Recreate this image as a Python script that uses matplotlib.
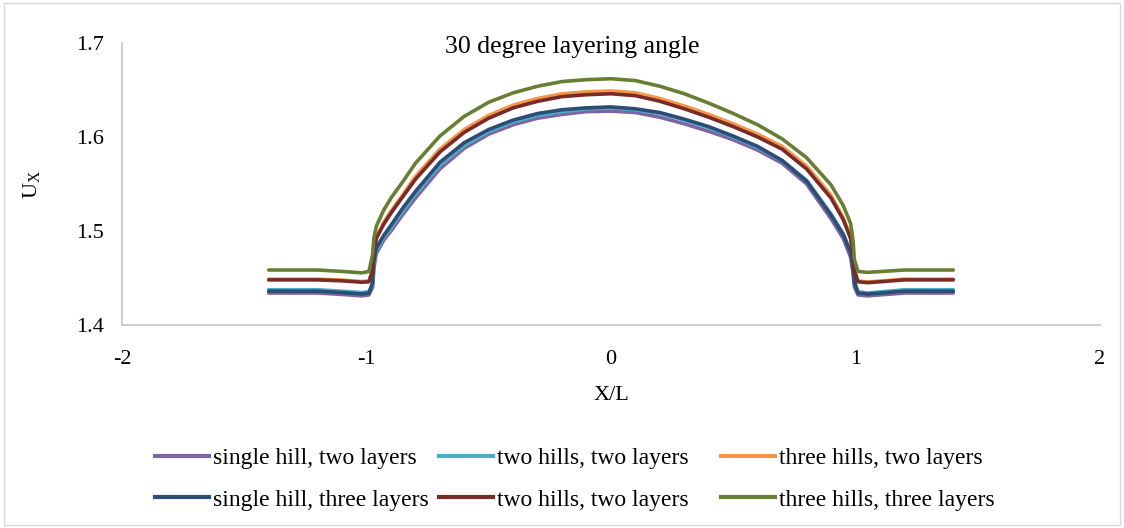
import numpy as np
import matplotlib.pyplot as plt
from matplotlib.lines import Line2D
from matplotlib.patches import Rectangle

plt.rcParams['font.family'] = ['Liberation Serif', 'DejaVu Serif']
plt.rcParams['mathtext.fontset'] = 'custom'
plt.rcParams['mathtext.rm'] = 'Liberation Serif'
plt.rcParams['axes.unicode_minus'] = False

# X/L positions
x = [-1.4, -1.2, -1.1, -1.02, -0.99, -0.975, -0.97, -0.96, -0.93, -0.9, -0.85, -0.8,
     -0.7, -0.6, -0.5, -0.4, -0.3, -0.2, -0.1, 0.0, 0.1, 0.2, 0.3, 0.4, 0.5, 0.6,
     0.7, 0.8, 0.9, 0.95, 0.98, 0.99, 0.995, 1.01, 1.05, 1.2, 1.4]

single_two = [1.434, 1.434, 1.4325, 1.431, 1.432, 1.440, 1.460, 1.476, 1.490, 1.500, 1.518, 1.535,
              1.566, 1.588, 1.603, 1.613, 1.620, 1.624, 1.627, 1.6275, 1.626, 1.621, 1.614, 1.606, 1.597, 1.586,
              1.572, 1.550, 1.513, 1.492, 1.472, 1.455, 1.441, 1.432, 1.431, 1.434, 1.434]
two_two = [1.4375, 1.4375, 1.436, 1.4345, 1.4355, 1.443, 1.464, 1.479, 1.493, 1.503, 1.522, 1.539,
           1.570, 1.591, 1.606, 1.616, 1.623, 1.627, 1.630, 1.631, 1.629, 1.625, 1.618, 1.610, 1.600, 1.589,
           1.575, 1.554, 1.518, 1.497, 1.478, 1.461, 1.447, 1.4355, 1.434, 1.4375, 1.4375]
three_two = [1.4488, 1.4488, 1.4478, 1.4463, 1.4468, 1.459, 1.479, 1.493, 1.509, 1.521, 1.539, 1.558,
             1.587, 1.608, 1.623, 1.634, 1.641, 1.646, 1.648, 1.649, 1.647, 1.641, 1.633, 1.624, 1.614, 1.603,
             1.590, 1.569, 1.538, 1.514, 1.494, 1.476, 1.459, 1.4468, 1.4458, 1.4488, 1.4488]
single_three = [1.436, 1.436, 1.4345, 1.433, 1.434, 1.445, 1.468, 1.482, 1.495, 1.506, 1.525, 1.542,
                1.573, 1.594, 1.608, 1.618, 1.625, 1.629, 1.631, 1.632, 1.630, 1.626, 1.619, 1.611, 1.601, 1.590,
                1.575, 1.553, 1.517, 1.496, 1.477, 1.460, 1.446, 1.434, 1.433, 1.436, 1.436]
two_two_b = [1.448, 1.448, 1.447, 1.4455, 1.446, 1.458, 1.478, 1.492, 1.507, 1.519, 1.537, 1.555,
             1.584, 1.605, 1.620, 1.631, 1.638, 1.643, 1.645, 1.646, 1.644, 1.638, 1.630, 1.621, 1.611, 1.600,
             1.587, 1.566, 1.535, 1.512, 1.492, 1.475, 1.458, 1.446, 1.445, 1.448, 1.448]
three_three = [1.4585, 1.4585, 1.457, 1.4555, 1.457, 1.475, 1.492, 1.505, 1.522, 1.535, 1.553, 1.572,
               1.601, 1.622, 1.637, 1.647, 1.654, 1.659, 1.661, 1.662, 1.660, 1.654, 1.646, 1.636, 1.625, 1.613,
               1.598, 1.578, 1.549, 1.527, 1.508, 1.490, 1.470, 1.457, 1.456, 1.4585, 1.4585]

series = [single_two, two_two, three_two, single_three, two_two_b, three_three]
labels = ['single hill, two layers', 'two hills, two layers', 'three hills, two layers',
          'single hill, three layers', 'two hills, two layers', 'three hills, three layers']
colors = ['#8064A2', '#4BACC6', '#F79646', '#2C4D75', '#772C2A', '#687E35']

fig = plt.figure(figsize=(11.24, 5.28), dpi=100)
ax = fig.add_axes([122/1124, 1-325/528, (1100-122)/1124, (325-43)/528])

for y, c in zip(series, colors):
    ax.plot(x, y, color=c, lw=2.6, solid_joinstyle='round', solid_capstyle='round')

ax.set_xlim(-2, 2)
ax.set_ylim(1.4, 1.7)
ax.set_xticks([-2, -1, 0, 1, 2])
ax.set_yticks([1.4, 1.5, 1.6, 1.7])
ax.set_yticklabels(['1.4', '1.5', '1.6', '1.7'])
ax.tick_params(length=0, labelsize=16, colors='black')
ax.tick_params(axis='x', pad=18)
ax.tick_params(axis='y', pad=13)
for s in ['top', 'right']:
    ax.spines[s].set_visible(False)
for s in ['left', 'bottom']:
    ax.spines[s].set_color('#C8C8C8')
    ax.spines[s].set_linewidth(1.3)

ax.set_xlabel('X/L', fontsize=16, labelpad=12)
ax.set_ylabel(r'U$_\mathregular{X}$', fontsize=16, labelpad=24)
ax.text((572-122)/(1100-122), 0.985, '30 degree layering angle', transform=ax.transAxes,
        ha='center', va='center', fontsize=18.5)

# legend: three columns of two entries
col_x = [155, 439, 721]
for i in range(3):
    hs = [Line2D([], [], color=colors[i], lw=3), Line2D([], [], color=colors[i + 3], lw=3)]
    fig.legend(hs, [labels[i], labels[i + 3]], loc='center left',
               bbox_to_anchor=(col_x[i]/1124, 1-479/528), frameon=False,
               fontsize=17, borderpad=0, borderaxespad=0, handlelength=2.3,
               handletextpad=0.15, labelspacing=0.85)

fig.add_artist(Rectangle((0.004, 0.006), 0.992, 0.988, transform=fig.transFigure,
                         fill=False, edgecolor='#D9D9D9', lw=1))

fig.savefig('out.png', dpi=100)
